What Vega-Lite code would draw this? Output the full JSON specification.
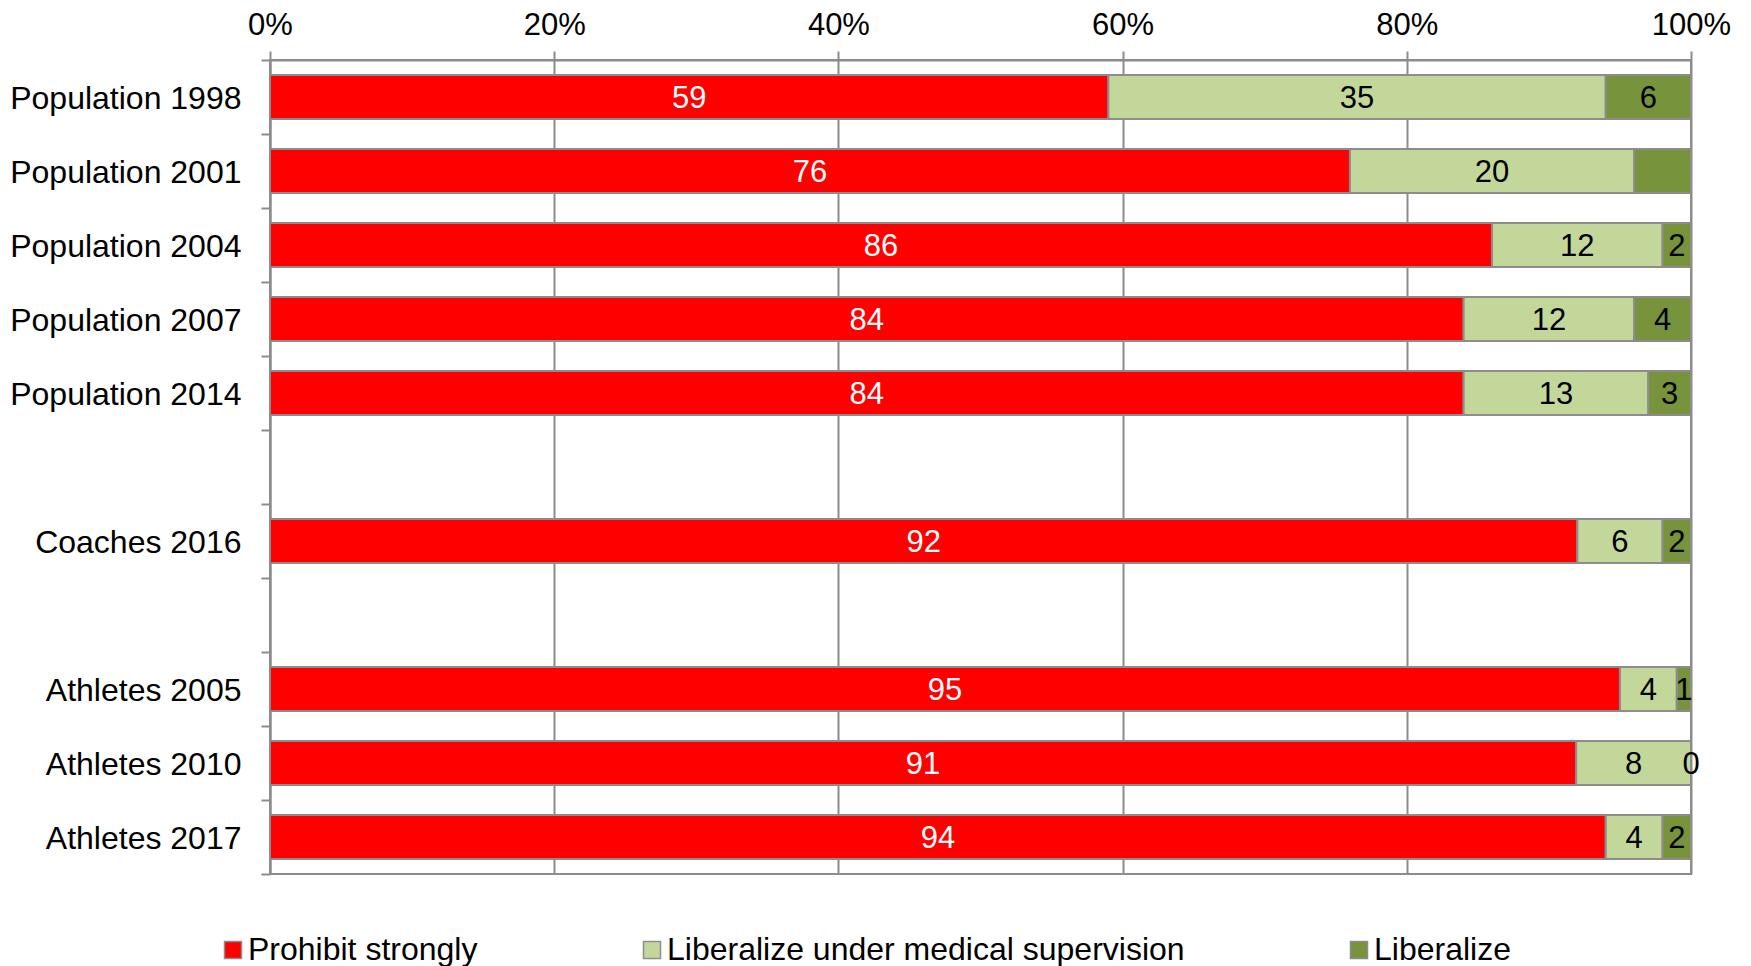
{
  "$schema": "https://vega.github.io/schema/vega-lite/v6.json",
  "width": 1421,
  "height": 814,
  "autosize": {"type": "none"},
  "padding": {"left": 270, "top": 60, "right": 60, "bottom": 92},
  "background": "white",
  "config": {
    "font": "Liberation Sans",
    "view": {"stroke": "#8c8c8c", "strokeWidth": 2}
  },
  "data": {
    "values": [
      {"group": "Population 1998", "answer": "Prohibit strongly", "value": 59},
      {"group": "Population 1998", "answer": "Liberalize under medical supervision", "value": 35},
      {"group": "Population 1998", "answer": "Liberalize", "value": 6},
      {"group": "Population 2001", "answer": "Prohibit strongly", "value": 76},
      {"group": "Population 2001", "answer": "Liberalize under medical supervision", "value": 20},
      {"group": "Population 2001", "answer": "Liberalize", "value": 4},
      {"group": "Population 2004", "answer": "Prohibit strongly", "value": 86},
      {"group": "Population 2004", "answer": "Liberalize under medical supervision", "value": 12},
      {"group": "Population 2004", "answer": "Liberalize", "value": 2},
      {"group": "Population 2007", "answer": "Prohibit strongly", "value": 84},
      {"group": "Population 2007", "answer": "Liberalize under medical supervision", "value": 12},
      {"group": "Population 2007", "answer": "Liberalize", "value": 4},
      {"group": "Population 2014", "answer": "Prohibit strongly", "value": 84},
      {"group": "Population 2014", "answer": "Liberalize under medical supervision", "value": 13},
      {"group": "Population 2014", "answer": "Liberalize", "value": 3},
      {"group": "Coaches 2016", "answer": "Prohibit strongly", "value": 92},
      {"group": "Coaches 2016", "answer": "Liberalize under medical supervision", "value": 6},
      {"group": "Coaches 2016", "answer": "Liberalize", "value": 2},
      {"group": "Athletes 2005", "answer": "Prohibit strongly", "value": 95},
      {"group": "Athletes 2005", "answer": "Liberalize under medical supervision", "value": 4},
      {"group": "Athletes 2005", "answer": "Liberalize", "value": 1},
      {"group": "Athletes 2010", "answer": "Prohibit strongly", "value": 91},
      {"group": "Athletes 2010", "answer": "Liberalize under medical supervision", "value": 8},
      {"group": "Athletes 2010", "answer": "Liberalize", "value": 0},
      {"group": "Athletes 2017", "answer": "Prohibit strongly", "value": 94},
      {"group": "Athletes 2017", "answer": "Liberalize under medical supervision", "value": 4},
      {"group": "Athletes 2017", "answer": "Liberalize", "value": 2}
    ]
  },
  "transform": [
    {
      "stack": "value",
      "groupby": ["group"],
      "sort": [{"field": "answer", "order": "descending"}],
      "offset": "normalize",
      "as": ["x0", "x1"]
    },
    {"calculate": "(datum.x0 + datum.x1) / 2", "as": "mid"}
  ],
  "encoding": {
    "y": {
      "field": "group",
      "type": "nominal",
      "scale": {
        "domain": ["Population 1998", "Population 2001", "Population 2004", "Population 2007", "Population 2014", " ", "Coaches 2016", "  ", "Athletes 2005", "Athletes 2010", "Athletes 2017"],
        "paddingInner": 0,
        "paddingOuter": 0
      },
      "axis": {
        "title": null,
        "orient": "left",
        "tickBand": "extent",
        "tickSize": 9,
        "tickColor": "#8c8c8c",
        "tickWidth": 2,
        "domainColor": "#8c8c8c",
        "domainWidth": 2,
        "labelFontSize": 32,
        "labelColor": "black",
        "labelPadding": 20,
        "labelOffset": 1,
        "labelLimit": 1000,
        "grid": false
      }
    }
  },
  "layer": [
    {
      "mark": {"type": "bar", "stroke": "#8c8c8c", "strokeWidth": 2, "height": {"band": 0.595}},
      "encoding": {
        "x": {
          "field": "x0",
          "type": "quantitative",
          "scale": {"domain": [0, 1], "nice": false},
          "axis": {
            "title": null,
            "orient": "top",
            "values": [0, 0.2, 0.4, 0.6, 0.8, 1],
            "format": ".0%",
            "labelFlush": false,
            "grid": true,
            "gridColor": "#8c8c8c",
            "gridWidth": 2,
            "tickSize": 9,
            "tickColor": "#8c8c8c",
            "tickWidth": 2,
            "domainColor": "#8c8c8c",
            "domainWidth": 2,
            "labelFontSize": 31,
            "labelColor": "black",
            "labelPadding": 10
          }
        },
        "x2": {"field": "x1"},
        "color": {
          "field": "answer",
          "type": "nominal",
          "scale": {
            "domain": ["Prohibit strongly", "Liberalize under medical supervision", "Liberalize"],
            "range": ["#ff0000", "#c4d79b", "#77933c"]
          },
          "legend": {
            "title": null,
            "orient": "none",
            "legendX": -53,
            "legendY": 874,
            "direction": "horizontal",
            "symbolType": "square",
            "symbolSize": 289,
            "symbolStrokeColor": "#8c8c8c",
            "symbolStrokeWidth": 1.5,
            "labelFontSize": 32,
            "labelColor": "black",
            "labelOffset": -1,
            "labelLimit": 1000,
            "columnPadding": 158
          }
        }
      }
    },
    {
      "transform": [
        {"filter": "datum.group != 'Population 2001' || datum.answer != 'Liberalize'"}
      ],
      "mark": {"type": "text", "fontSize": 31, "baseline": "middle", "align": "center", "dy": 2},
      "encoding": {
        "x": {"field": "mid", "type": "quantitative"},
        "text": {"field": "value", "type": "quantitative"},
        "color": {
          "condition": {"test": "datum.answer == 'Prohibit strongly'", "value": "white"},
          "value": "black"
        }
      }
    }
  ]
}
